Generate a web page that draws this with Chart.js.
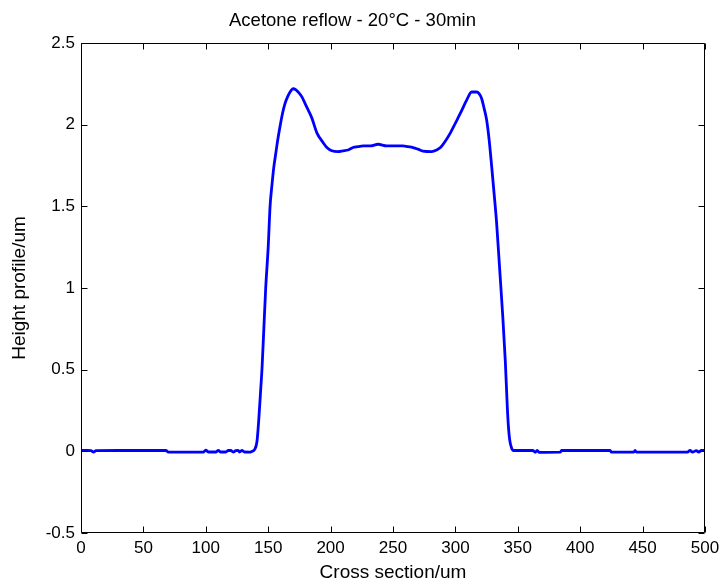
<!DOCTYPE html>
<html>
<head>
<meta charset="utf-8">
<script src="https://cdn.jsdelivr.net/npm/chart.js@4/dist/chart.umd.min.js"></script>
<style>
  html, body { margin: 0; padding: 0; background: #ffffff; }
  canvas { display: block; }
</style>
</head>
<body>
<canvas id="c" width="722" height="584"></canvas>
<script>
// ---- Data ----
const crossSection = [
  0, 5, 8, 10, 12, 30, 50, 68, 70, 90, 98, 100, 102, 108, 110, 112, 116, 118, 120, 122,
  124, 126, 127, 129, 131, 135, 137, 139, 141, 142.5, 144, 145, 146.5, 148, 150, 151.5, 153,
  154.5, 156, 157.5, 159.5, 161.5, 163.5, 165.5, 167.5, 170, 172, 174, 177, 179.5, 182, 185,
  189, 194, 197, 201, 206, 210, 214, 218, 222, 226, 232, 238, 245, 250, 258, 262, 266, 270,
  274, 281, 285, 288, 292, 296, 300, 304, 309, 313, 317, 319, 321, 323, 325, 327, 329, 331.7,
  333, 335.7, 338, 340, 341.6, 342.5, 343.5, 345, 346.5, 350, 362, 364, 365.5, 367, 384, 385,
  424, 425, 443, 444, 445, 486, 488, 490, 493, 495, 497, 500
];
const heightProfile = [
  0.005, 0.005, 0.004, -0.004, 0.004, 0.005, 0.005, 0.005, -0.005, -0.005, -0.005, 0.008, -0.004, -0.004, 0.006, -0.004, -0.004, 0.005, 0.005, -0.004,
  0.004, 0.006, -0.004, 0.005, -0.004, -0.005, 0.0, 0.01, 0.06, 0.2, 0.38, 0.5, 0.75, 1.0, 1.25, 1.5, 1.63,
  1.74, 1.82, 1.9, 1.99, 2.07, 2.13, 2.17, 2.20, 2.22, 2.215, 2.20, 2.17, 2.13, 2.09, 2.04,
  1.95, 1.89, 1.86, 1.84, 1.835, 1.84, 1.845, 1.86, 1.865, 1.87, 1.87, 1.88, 1.87, 1.87, 1.87, 1.865, 1.86, 1.85,
  1.838, 1.835, 1.845, 1.86, 1.90, 1.95, 2.01, 2.07, 2.15, 2.20, 2.20, 2.19, 2.16, 2.10, 2.03, 1.91, 1.75, 1.52,
  1.4, 1.09, 0.82, 0.55, 0.27, 0.15, 0.07, 0.02, 0.005, 0.005, 0.005, -0.006, 0.006, -0.006, -0.005, 0.005,
  0.005, -0.005, -0.005, 0.006, -0.005, -0.005, 0.006, -0.005, 0.004, -0.005, 0.005, 0.005
];
const xTickValues = [0, 50, 100, 150, 200, 250, 300, 350, 400, 450, 500];
const xTickLabels = ['0', '50', '100', '150', '200', '250', '300', '350', '400', '450', '500'];
const yTickValues = [-0.5, 0, 0.5, 1, 1.5, 2, 2.5];
const yTickLabels = ['-0.5', '0', '0.5', '1', '1.5', '2', '2.5'];
const chartTitle = 'Acetone reflow - 20\u00B0C - 30min';
const xAxisTitle = 'Cross section/um';
const yAxisTitle = 'Height profile/um';

// ---- Chart ----
const FONT = 'Liberation Sans, Arial, Helvetica, sans-serif';

const boxTicks = {
  id: 'boxTicks',
  afterDraw(chart) {
    const { ctx, chartArea, scales } = chart;
    const L = Math.round(chartArea.left) + 0.5;
    const R = Math.round(chartArea.right) - 0.5;
    const T = Math.round(chartArea.top) + 0.5;
    const B = Math.round(chartArea.bottom) - 0.5;
    const len = 6;
    ctx.save();
    ctx.strokeStyle = '#000000';
    ctx.lineWidth = 1;
    ctx.beginPath();
    ctx.rect(L, T, R - L, B - T);
    scales.x.ticks.forEach(t => {
      const px = Math.round(scales.x.getPixelForValue(t.value)) + 0.5;
      ctx.moveTo(px, B); ctx.lineTo(px, B - len);
      ctx.moveTo(px, T); ctx.lineTo(px, T + len);
    });
    scales.y.ticks.forEach(t => {
      const py = Math.round(scales.y.getPixelForValue(t.value)) + 0.5;
      ctx.moveTo(L, py); ctx.lineTo(L + len, py);
      ctx.moveTo(R, py); ctx.lineTo(R - len, py);
    });
    ctx.stroke();
    ctx.restore();
  }
};

new Chart(document.getElementById('c'), {
  type: 'scatter',
  data: {
    datasets: [{
      data: crossSection.map((x, i) => ({ x: x, y: heightProfile[i] })),
      showLine: true,
      borderColor: '#0000ff',
      backgroundColor: '#0000ff',
      borderWidth: 2.8,
      pointRadius: 0,
      cubicInterpolationMode: 'monotone',
      fill: false
    }]
  },
  options: {
    responsive: false,
    animation: false,
    events: [],
    layout: { padding: { left: 0, right: 17, top: 0, bottom: 0 } },
    plugins: {
      legend: { display: false },
      tooltip: { enabled: false },
      title: {
        display: true,
        text: chartTitle,
        color: '#000000',
        font: { family: FONT, size: 18.5, weight: 'normal', lineHeight: 1.2 },
        padding: { top: 10, bottom: 10.8 }
      }
    },
    scales: {
      x: {
        type: 'linear',
        min: 0,
        max: 500,
        grid: { display: false, drawTicks: false },
        border: { display: false },
        afterBuildTicks: s => { s.ticks = xTickValues.map(v => ({ value: v })); },
        afterFit: s => { s.height = 51; s.paddingLeft = 0; s.paddingRight = 0; },
        ticks: {
          color: '#000000',
          font: { family: FONT, size: 17 },
          padding: 5,
          maxRotation: 0,
          autoSkip: false,
          callback: (v, i) => xTickLabels[i]
        },
        title: {
          display: true,
          text: xAxisTitle,
          color: '#000000',
          font: { family: FONT, size: 19 },
          padding: { top: 0, bottom: 0 }
        }
      },
      y: {
        type: 'linear',
        min: -0.5,
        max: 2.5,
        grid: { display: false, drawTicks: false },
        border: { display: false },
        afterBuildTicks: s => { s.ticks = yTickValues.map(v => ({ value: v })); },
        afterFit: s => { s.width = 81; s.paddingTop = 0; s.paddingBottom = 0; },
        ticks: {
          color: '#000000',
          font: { family: FONT, size: 17 },
          padding: 6,
          autoSkip: false,
          callback: (v, i) => yTickLabels[i]
        },
        title: {
          display: true,
          text: yAxisTitle,
          color: '#000000',
          font: { family: FONT, size: 19 },
          padding: { top: 8.6, bottom: 0 }
        }
      }
    }
  },
  plugins: [boxTicks]
});
</script>
</body>
</html>
